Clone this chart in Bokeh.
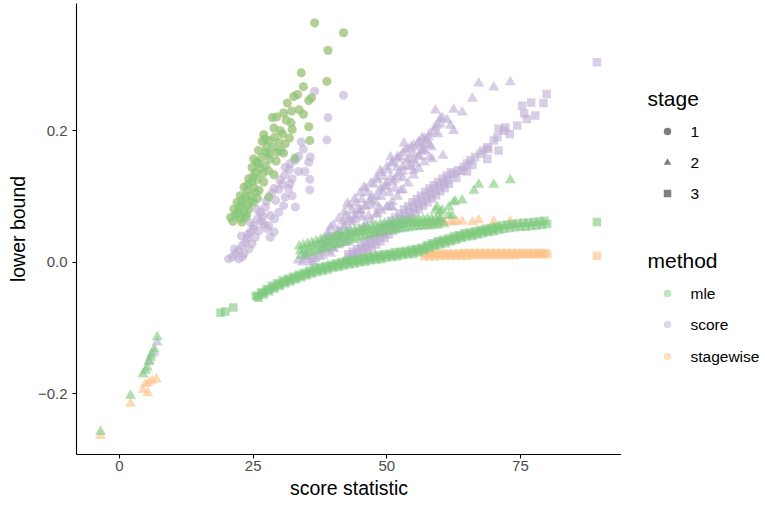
from bokeh.plotting import figure
from bokeh.models import Range1d, FixedTicker
from bokeh.layouts import row
from bokeh.core.properties import value
from bokeh.embed import file_html
from bokeh.resources import INLINE

# ---------------- data ----------------
x_ticks = [0, 25, 50, 75]
y_ticks = [-0.2, 0.0, 0.2]
y_tick_labels = ["\u22120.2", "0.0", "0.2"]

# stage 1, mle (stagewise coincides with mle at stage 1)
s1_mle_x = [36.5, 41.9, 39.0, 34.0, 38.8, 34.4, 33.3, 32.6, 35.9, 35.4, 31.4, 30.7, 32.2, 33.6, 34.4,
            28.6, 29.4, 31.2, 32.1, 28.9, 30.1, 35.4, 32.3, 27.0, 29.0, 28.0, 31.0, 31.8, 35.6, 26.7,
            27.2, 26.0, 27.4, 28.7, 29.5, 30.1, 30.7, 25.1, 25.7, 26.7, 28.2, 29.3, 32.8, 24.8, 25.4,
            26.4, 27.3, 27.9, 28.9, 24.2, 24.7, 25.8, 27.0, 23.3, 23.9, 25.1, 26.1, 22.6, 23.6, 24.5,
            25.8, 27.9, 22.0, 22.9, 23.9, 25.1, 21.4, 22.3, 23.3, 24.2, 20.8, 21.7, 22.6, 23.5, 22.9,
            22.0, 23.0, 24.0, 25.0, 26.0, 21.2, 24.6, 23.8, 25.5, 22.5, 26.8, 28.0, 29.8, 30.5, 27.5]
s1_mle_y = [0.364, 0.349, 0.322, 0.288, 0.275, 0.267, 0.255, 0.252, 0.250, 0.246, 0.242, 0.227, 0.230, 0.232, 0.225,
            0.220, 0.221, 0.216, 0.212, 0.204, 0.200, 0.206, 0.202, 0.194, 0.190, 0.185, 0.180, 0.189, 0.185, 0.184,
            0.187, 0.170, 0.167, 0.175, 0.167, 0.170, 0.166, 0.157, 0.152, 0.160, 0.157, 0.154, 0.158, 0.144, 0.137,
            0.142, 0.147, 0.139, 0.133, 0.127, 0.122, 0.126, 0.122, 0.114, 0.109, 0.114, 0.109, 0.101, 0.099, 0.101,
            0.097, 0.099, 0.091, 0.089, 0.086, 0.091, 0.081, 0.079, 0.076, 0.081, 0.068, 0.071, 0.066, 0.068, 0.061,
            0.074, 0.095, 0.118, 0.130, 0.150, 0.062, 0.093, 0.072, 0.106, 0.084, 0.135, 0.165, 0.182, 0.195, 0.175]
s1_stagewise_x = s1_mle_x
s1_stagewise_y = s1_mle_y

# stage 1, score
s1_score_x = [36.5, 41.9, 39.0, 38.8, 34.0, 34.4, 35.7, 35.4, 33.5, 32.9, 31.8, 33.5, 34.7, 30.9, 32.3,
              35.6, 35.6, 30.4, 31.9, 31.6, 29.8, 28.9, 31.0, 32.3, 29.2, 30.7, 32.9, 29.8, 29.0, 27.9,
              28.9, 28.2, 27.3, 26.4, 25.8, 27.0, 25.1, 26.1, 24.5, 25.4, 23.9, 24.8, 22.9, 24.2, 22.3,
              23.3, 21.7, 21.1, 22.3, 20.4, 28.2, 27.6, 31.0, 31.9,
              23.5, 24.0, 25.0, 26.5, 21.5, 22.8, 26.8, 23.0, 24.5, 25.8, 27.5, 28.5, 30.0]
s1_score_y = [0.260, 0.254, 0.220, 0.186, 0.183, 0.172, 0.160, 0.152, 0.161, 0.155, 0.141, 0.138, 0.138, 0.132, 0.127,
              0.126, 0.110, 0.119, 0.119, 0.112, 0.111, 0.112, 0.099, 0.101, 0.094, 0.086, 0.084, 0.076, 0.066, 0.056,
              0.046, 0.038, 0.084, 0.076, 0.066, 0.058, 0.056, 0.048, 0.046, 0.038, 0.036, 0.028, 0.025, 0.020, 0.018,
              0.013, 0.013, 0.008, 0.005, 0.005, 0.071, 0.051, 0.144, 0.150,
              0.030, 0.042, 0.050, 0.062, 0.020, 0.040, 0.070, 0.008, 0.060, 0.080, 0.093, 0.105, 0.125]

# stage 2, mle
s2_mle_x = [7.05, 6.5, 6.0, 5.8, 5.5, 5.2, 4.9, 4.4, 2.06, -3.55,
            33.6, 34.4, 35.2, 36.0, 36.8, 37.6, 38.4, 39.2, 40.0, 40.8, 41.6, 42.4, 43.2, 44.0, 44.8, 45.6, 46.4,
            47.2, 48.0, 48.8, 49.6, 50.4, 51.2, 52.0, 52.8, 53.6, 54.4, 55.2, 56.0, 56.8, 57.6, 58.4, 59.2, 60.0,
            34.0, 34.8, 35.6, 36.4, 37.2, 38.0, 38.8, 39.6, 40.4, 41.2, 42.0, 42.8, 43.6, 44.4, 45.2, 46.0, 46.8,
            47.6, 48.4, 49.2, 50.0, 50.8, 51.6, 52.4, 53.2, 54.0, 54.8, 55.6, 56.4, 57.2, 58.0, 58.8, 59.6,
            33.8, 34.6, 35.4, 36.2, 37.0, 37.8, 38.6, 39.4, 40.2, 41.0, 41.8, 42.6, 43.4, 44.2, 45.0, 45.8, 46.6,
            47.4, 48.2, 49.0, 49.8, 50.6, 51.4, 52.2, 53.0, 53.8, 54.6, 55.4, 56.2, 57.0, 57.8, 58.6, 59.4,
            59.4, 60.0, 61.6, 62.5, 64.1, 62.2, 66.3, 67.2, 70.0, 73.1, 60.7, 59.9, 62.8, 59.1, 61.6, 60.4]
s2_mle_y = [-0.114, -0.132, -0.140, -0.145, -0.152, -0.160, -0.165, -0.170, -0.203, -0.258,
            0.024, 0.026, 0.028, 0.030, 0.032, 0.034, 0.036, 0.037, 0.039, 0.041, 0.043, 0.045, 0.047, 0.049, 0.050, 0.052, 0.053,
            0.055, 0.056, 0.058, 0.059, 0.060, 0.061, 0.062, 0.063, 0.063, 0.064, 0.064, 0.065, 0.065, 0.066, 0.066, 0.066, 0.066,
            0.010, 0.012, 0.014, 0.016, 0.018, 0.020, 0.022, 0.024, 0.026, 0.028, 0.030, 0.032, 0.034, 0.036, 0.038, 0.040, 0.041,
            0.043, 0.044, 0.046, 0.047, 0.048, 0.049, 0.050, 0.051, 0.052, 0.053, 0.054, 0.054, 0.055, 0.055, 0.056, 0.056,
            0.017, 0.019, 0.021, 0.024, 0.026, 0.028, 0.030, 0.031, 0.033, 0.036, 0.038, 0.040, 0.042, 0.044, 0.045, 0.047, 0.048,
            0.050, 0.051, 0.053, 0.054, 0.055, 0.056, 0.057, 0.058, 0.058, 0.059, 0.059, 0.060, 0.060, 0.061, 0.061, 0.061,
            0.084, 0.076, 0.084, 0.091, 0.094, 0.071, 0.109, 0.118, 0.118, 0.125, 0.058, 0.064, 0.093, 0.079, 0.071, 0.079]

# stage 2, score
s2_score_x = [7.05, 6.5, 5.6,
              33.4, 34.2, 35.0, 35.8, 36.6, 37.4, 34.6, 36.2,
              35.1, 38.2, 40.8, 43.6, 45.1, 46.9, 48.8, 50.7, 51.9, 53.8, 55.0, 56.3, 57.5, 58.8, 60.0, 61.3,
              36.3, 39.5, 42.6, 45.7, 48.2, 50.7, 52.6, 55.0,
              39.5, 42.6, 45.7, 48.8, 50.7, 51.9, 53.2, 56.6, 58.5, 60.5, 59.1, 60.0, 62.5, 64.1, 61.9, 62.5,
              66.0, 67.2, 70.0, 73.1, 50.1, 51.0, 59.4, 56.9,
              38.8, 39.6, 40.4, 40.9, 41.5, 42.0, 42.3, 43.0, 43.4, 44.0, 44.2, 44.8, 45.3, 45.9, 46.3, 46.6,
              47.2, 47.5, 48.0, 48.3, 48.9, 49.3, 49.6, 50.2, 50.4, 51.0, 51.4, 52.2, 52.5, 53.0, 53.5, 54.2,
              54.6, 55.4, 55.8, 56.0, 57.0, 57.8, 58.3, 59.0, 59.6, 60.4,
              37.5, 38.5, 39.0, 40.0, 41.0, 41.8, 43.0, 44.5, 45.5, 47.0, 48.5, 50.0, 51.5, 53.0, 54.5, 56.5,
              38.0, 38.0, 38.0, 39.0, 39.0, 39.0, 40.0, 40.0, 40.0, 41.0, 41.0, 41.0, 42.0, 42.0, 42.0,
              43.0, 43.0, 43.0, 44.0, 44.0, 44.0, 45.0, 45.0, 45.0, 46.0, 46.0, 46.0, 47.0, 47.0, 47.0,
              48.0, 48.0, 48.0, 49.0, 49.0, 49.0, 50.0, 50.0, 50.0, 51.0, 51.0, 51.0, 52.0, 52.0, 52.0,
              53.0, 53.0, 53.0, 54.0, 54.0, 54.0, 55.0, 55.0, 55.0, 56.0, 56.0, 56.0, 57.0, 57.0, 57.0,
              58.0, 58.0, 58.0]
s2_score_y = [-0.122, -0.137, -0.150,
              0.003, 0.000, 0.004, 0.001, 0.005, 0.008, 0.008, 0.010,
              0.008, 0.023, 0.043, 0.061, 0.079, 0.094, 0.112, 0.129, 0.144, 0.155, 0.165, 0.175, 0.185, 0.198, 0.210, 0.216,
              0.000, 0.013, 0.030, 0.053, 0.074, 0.084, 0.109, 0.139,
              0.053, 0.089, 0.114, 0.139, 0.160, 0.157, 0.181, 0.189, 0.157, 0.162, 0.231, 0.218, 0.232, 0.228, 0.208, 0.200,
              0.249, 0.272, 0.266, 0.274, 0.084, 0.084, 0.208, 0.170,
              0.030, 0.038, 0.028, 0.048, 0.040, 0.055, 0.070, 0.050, 0.078, 0.065, 0.090, 0.072, 0.095, 0.085, 0.105, 0.070,
              0.100, 0.118, 0.090, 0.125, 0.100, 0.130, 0.115, 0.140, 0.105, 0.150, 0.125, 0.135, 0.160, 0.145, 0.170, 0.158,
              0.175, 0.150, 0.180, 0.160, 0.180, 0.190, 0.175, 0.205, 0.195, 0.220,
              0.015, 0.020, 0.040, 0.022, 0.035, 0.062, 0.066, 0.080, 0.068, 0.086, 0.082, 0.120, 0.112, 0.128, 0.145, 0.168,
              0.010, 0.022, 0.034, 0.016, 0.030, 0.045, 0.020, 0.038, 0.056, 0.026, 0.046, 0.066, 0.030, 0.053, 0.076,
              0.038, 0.062, 0.086, 0.045, 0.070, 0.096, 0.050, 0.078, 0.105, 0.056, 0.085, 0.112, 0.064, 0.093, 0.120,
              0.072, 0.100, 0.128, 0.078, 0.108, 0.136, 0.084, 0.115, 0.145, 0.092, 0.122, 0.152, 0.100, 0.130, 0.160,
              0.110, 0.138, 0.166, 0.120, 0.146, 0.172, 0.132, 0.155, 0.178, 0.142, 0.162, 0.183, 0.152, 0.170, 0.188,
              0.160, 0.178, 0.195]

# stage 2, stagewise
s2_stagewise_x = [6.9, 6.1, 5.5, 4.9, 4.4, 5.3, 2.06, -3.55,
                  57.6, 58.5, 59.7, 60.4, 60.7, 61.9, 62.5, 63.1, 64.1, 66.0, 67.2, 70.0, 73.1]
s2_stagewise_y = [-0.178, -0.180, -0.183, -0.185, -0.194, -0.199, -0.215, -0.264,
                  0.058, 0.060, 0.061, 0.061, 0.062, 0.061, 0.061, 0.062, 0.062, 0.061, 0.064, 0.062, 0.062]

# stage 3, mle
s3_mle_x = [18.9, 19.8, 21.3,
            25.5, 26.5, 27.5, 28.5, 29.5, 30.5, 31.5, 32.5, 33.5, 34.5, 35.5, 36.5, 37.5, 38.5, 39.5, 40.5,
            41.5, 42.5, 43.5, 44.5, 45.5, 46.5, 47.5, 48.5, 49.5, 50.5, 51.5, 52.5, 53.5, 54.5, 55.5, 56.5,
            57.5, 58.5, 59.5, 60.5, 61.5, 62.5, 63.5, 64.5, 65.5, 66.5, 67.5, 68.5, 69.5, 70.5, 71.5, 72.5,
            73.5, 74.5, 75.5, 76.5, 77.5, 78.5, 79.5,
            26, 27, 28, 29, 30, 31, 32, 33, 34, 35, 36, 37, 38, 39, 40, 41, 42, 43, 44, 45, 46, 47, 48, 49,
            50, 51, 52, 53, 54, 55, 56, 57, 58, 59, 60, 61, 62, 63, 64, 65, 66, 67, 68, 69, 70, 71, 72, 73,
            74, 75, 76, 77, 78, 79, 80,
            25.8, 26.8, 27.8, 28.8, 29.8, 30.8, 31.8, 32.8, 33.8, 34.8, 35.8, 36.8, 37.8, 38.8, 39.8, 40.8,
            41.8, 42.8, 43.8, 44.8, 45.8, 46.8, 47.8, 48.8, 49.8, 50.8, 51.8, 52.8, 53.8, 54.8, 55.8, 56.8,
            57.8, 58.8, 59.8, 60.8, 61.8, 62.8, 63.8, 64.8, 65.8, 66.8, 67.8, 68.8, 69.8, 70.8,
            89.3]
s3_mle_y = [-0.077, -0.075, -0.069,
            -0.051, -0.046, -0.041, -0.036, -0.032, -0.028, -0.025, -0.022, -0.019, -0.016, -0.013, -0.010, -0.008, -0.006, -0.004, -0.002,
            0.000, 0.002, 0.003, 0.005, 0.006, 0.008, 0.009, 0.011, 0.012, 0.013, 0.015, 0.016, 0.017, 0.019, 0.020, 0.022,
            0.026, 0.029, 0.032, 0.034, 0.036, 0.039, 0.041, 0.044, 0.045, 0.047, 0.049, 0.051, 0.052, 0.054, 0.056, 0.057,
            0.058, 0.059, 0.060, 0.060, 0.061, 0.062, 0.063,
            -0.054, -0.049, -0.044, -0.040, -0.036, -0.032, -0.029, -0.026, -0.023, -0.020, -0.017, -0.015, -0.013, -0.011, -0.008, -0.007, -0.005, -0.003, -0.002, 0.000, 0.001, 0.003, 0.004, 0.005,
            0.007, 0.008, 0.009, 0.011, 0.012, 0.013, 0.015, 0.018, 0.022, 0.025, 0.027, 0.029, 0.032, 0.034, 0.037, 0.039, 0.040, 0.042, 0.044, 0.046, 0.047, 0.049, 0.051, 0.052,
            0.053, 0.054, 0.054, 0.055, 0.056, 0.057, 0.058,
            -0.052, -0.047, -0.042, -0.038, -0.034, -0.030, -0.027, -0.024, -0.021, -0.018, -0.015, -0.012, -0.010, -0.008, -0.006, -0.004,
            -0.002, 0.000, 0.001, 0.003, 0.004, 0.006, 0.007, 0.008, 0.010, 0.011, 0.012, 0.014, 0.015, 0.016, 0.018, 0.020,
            0.024, 0.027, 0.030, 0.032, 0.034, 0.037, 0.039, 0.042, 0.043, 0.045, 0.047, 0.048, 0.050, 0.052,
            0.061]

# stage 3, score
s3_score_x = [42.8, 43.6, 44.4, 45.2, 46.0, 46.8, 47.6, 48.4, 49.2, 50.0, 50.8, 51.6, 52.4, 53.2, 54.0, 54.8,
              55.6, 56.4, 57.2, 58.0, 58.8, 59.6, 60.4, 61.2, 62.0,
              42.4, 43.2, 44.0, 44.8, 45.6, 46.4, 47.2, 48.0, 48.8, 49.6, 50.4, 51.2, 52.0, 52.8, 53.6, 54.4,
              55.2, 56.0, 56.8, 57.6, 58.4, 59.2, 60.0, 60.8, 61.6,
              43.0, 44.6, 46.2, 47.8, 49.4, 51.0, 52.6, 54.2, 55.8, 57.4, 59.0, 60.6,
              43.8, 45.4, 47.0, 48.6, 50.2, 51.8, 53.4, 55.0, 56.6, 58.2, 59.8, 61.4,
              62.5, 63.3, 64.0, 64.4, 65.0, 65.6, 66.5, 67.5, 68.0, 68.8, 69.0, 70.9, 68.8, 66.0, 70.0, 70.7,
              70.9, 71.9, 72.2, 74.4, 75.7, 76.2, 75.3, 77.0, 77.8, 79.3, 79.9, 73.0, 63.0, 65.0,
              89.3]
s3_score_y = [0.012, 0.016, 0.020, 0.025, 0.030, 0.035, 0.040, 0.046, 0.052, 0.057, 0.063, 0.068, 0.074, 0.080, 0.085, 0.091,
              0.096, 0.101, 0.107, 0.112, 0.117, 0.122, 0.127, 0.132, 0.137,
              0.002, 0.004, 0.007, 0.010, 0.014, 0.018, 0.022, 0.027, 0.032, 0.037, 0.042, 0.048, 0.053, 0.058, 0.064, 0.069,
              0.075, 0.080, 0.086, 0.091, 0.097, 0.102, 0.108, 0.113, 0.119,
              0.008, 0.014, 0.023, 0.033, 0.044, 0.056, 0.066, 0.077, 0.088, 0.099, 0.110, 0.120,
              0.012, 0.020, 0.029, 0.039, 0.050, 0.060, 0.071, 0.083, 0.093, 0.104, 0.115, 0.125,
              0.134, 0.140, 0.139, 0.145, 0.150, 0.155, 0.160, 0.165, 0.170, 0.175, 0.172, 0.170, 0.157, 0.148, 0.185, 0.190,
              0.203, 0.200, 0.205, 0.208, 0.226, 0.218, 0.238, 0.243, 0.223, 0.242, 0.256, 0.195, 0.128, 0.138,
              0.304]

# stage 3, stagewise
s3_stagewise_x = [57.0, 58.0, 59.0, 60.0, 61.0, 62.0, 63.0, 64.0, 65.0, 66.0, 67.0, 68.0, 69.0, 70.0, 71.0, 72.0,
                  73.0, 74.0, 75.0, 76.0, 77.0, 78.0, 79.0, 80.0,
                  57.5, 58.5, 59.5, 60.5, 61.5, 62.5, 63.5, 64.5, 65.5, 66.5, 67.5, 68.5, 69.5, 70.5, 71.5, 72.5,
                  73.5, 74.5, 75.5, 76.5, 77.5, 78.5, 79.5,
                  89.3]
s3_stagewise_y = [0.009, 0.009, 0.009, 0.010, 0.010, 0.010, 0.010, 0.010, 0.010, 0.011, 0.011, 0.011, 0.011, 0.011, 0.011, 0.011,
                  0.011, 0.011, 0.012, 0.012, 0.012, 0.012, 0.012, 0.012,
                  0.013, 0.013, 0.013, 0.013, 0.013, 0.013, 0.013, 0.014, 0.014, 0.014, 0.014, 0.014, 0.014, 0.014, 0.014, 0.014,
                  0.014, 0.014, 0.014, 0.014, 0.014, 0.014, 0.014,
                  0.010]

stage_labels = ["1", "2", "3"]
method_labels = ["mle", "score", "stagewise"]

# ---------------- styling ----------------
COLORS = {"mle": "#7FC97F", "score": "#BEAED4", "stagewise": "#FDC086"}
MARKERS = {"1": "circle", "2": "triangle", "3": "square"}
SIZES = {"1": 9, "2": 11, "3": 8.5}
ALPHA = 0.6
FONT = "Liberation Sans"

p = figure(width=621, height=505, output_backend="svg", toolbar_location=None,
           x_range=Range1d(-8.04, 93.9), y_range=Range1d(-0.2925, 0.3935),
           min_border_left=76, min_border_right=0, min_border_top=3, min_border_bottom=51,
           x_axis_label="score statistic", y_axis_label="lower bound")
p.background_fill_color = "white"
p.border_fill_color = "white"
p.outline_line_color = None
p.xgrid.visible = False
p.ygrid.visible = False

groups = [
    ("stagewise", "1", s1_stagewise_x, s1_stagewise_y),
    ("stagewise", "2", s2_stagewise_x, s2_stagewise_y),
    ("stagewise", "3", s3_stagewise_x, s3_stagewise_y),
    ("score", "1", s1_score_x, s1_score_y),
    ("score", "2", s2_score_x, s2_score_y),
    ("score", "3", s3_score_x, s3_score_y),
    ("mle", "1", s1_mle_x, s1_mle_y),
    ("mle", "2", s2_mle_x, s2_mle_y),
    ("mle", "3", s3_mle_x, s3_mle_y),
]
for method, stage, xs, ys in groups:
    p.scatter(x=xs, y=ys, marker=MARKERS[stage], size=SIZES[stage],
              fill_color=COLORS[method], fill_alpha=ALPHA, line_color=None)

for ax in (p.xaxis[0], p.yaxis[0]):
    ax.axis_line_color = "black"
    ax.axis_line_width = 1.1
    ax.major_tick_line_color = "black"
    ax.major_tick_line_width = 1.1
    ax.major_tick_out = 4
    ax.major_tick_in = 0
    ax.minor_tick_line_color = None
    ax.major_label_text_font = FONT
    ax.major_label_text_font_size = "15px"
    ax.major_label_text_color = "#4D4D4D"
    ax.axis_label_text_font = FONT
    ax.axis_label_text_font_size = "19.5px"
    ax.axis_label_text_font_style = "normal"
    ax.axis_label_text_color = "black"
p.xaxis.ticker = FixedTicker(ticks=x_ticks)
p.yaxis.ticker = FixedTicker(ticks=y_ticks)
p.yaxis.major_label_overrides = dict(zip(y_ticks, y_tick_labels))
p.xaxis.major_label_standoff = 2
p.yaxis.major_label_standoff = 5
p.xaxis.axis_label_standoff = 3
p.yaxis.axis_label_standoff = 6

# ---------------- legend panel (separate figure, pixel coordinates) ----------------
# its frame is aligned with the main frame (rows 3..454), so y maps straight to pixels
lg = figure(width=144, height=505, output_backend="svg", toolbar_location=None,
            x_range=Range1d(0, 144), y_range=Range1d(454, 3),
            x_axis_type=None, y_axis_type=None,
            min_border_left=0, min_border_right=0, min_border_top=3, min_border_bottom=51)
lg.outline_line_color = None
lg.xgrid.visible = False
lg.ygrid.visible = False
lg.background_fill_color = "white"
lg.border_fill_color = "white"

key_x, lab_x, title_x = 46, 69, 26
stage_key_y = [131, 162, 193]
method_key_y = [293, 324, 356]

lg.text(x=[title_x, title_x], y=[98, 260], text=["stage", "method"],
        text_font=value(FONT), text_font_size=value("21px"), text_color="black",
        text_baseline="middle", text_align="left")
for lab, yy in zip(stage_labels, stage_key_y):
    lg.scatter(x=[key_x], y=[yy], marker=MARKERS[lab], size=7.5, fill_color="#7F7F7F",
               line_color=None)
for lab, yy in zip(method_labels, method_key_y):
    lg.scatter(x=[key_x], y=[yy], marker="circle", size=7.5, fill_color=COLORS[lab],
               fill_alpha=0.5, line_color=None)
lg.text(x=[lab_x] * 6, y=stage_key_y + method_key_y, text=stage_labels + method_labels,
        text_font=value(FONT), text_font_size=value("15.5px"), text_color="black",
        text_baseline="middle", text_align="left")

layout = row(p, lg, spacing=0)
open("out.html", "w").write(file_html(layout, INLINE))
